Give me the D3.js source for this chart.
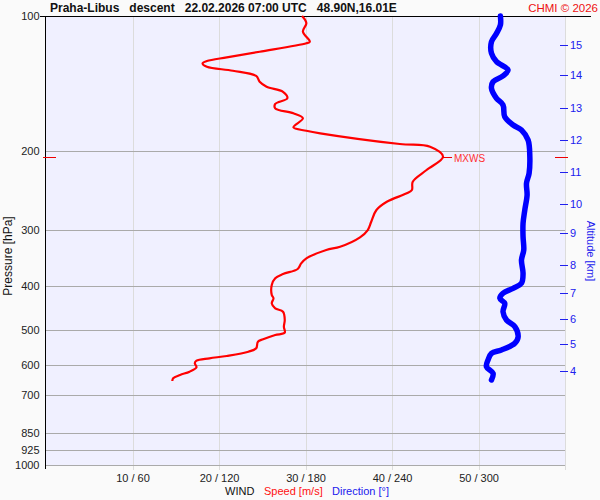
<!DOCTYPE html>
<html>
<head>
<meta charset="utf-8">
<script src="https://cdn.jsdelivr.net/npm/d3@7"></script>
<style>
body { margin: 0; background: #fafafa; }
svg { display: block; font-family: "Liberation Sans", Arial, sans-serif; }
</style>
</head>
<body>
<script>
//chart size
var outerWidth = 600;
var outerHeight = 500;

//pressure levels and axis ticks
var pressureTicks = [100, 200, 300, 400, 500, 600, 700, 850, 925, 1000];
var windTicks = [10, 20, 30, 40, 50];
var windTickLabels = ["10 / 60", "20 / 120", "30 / 180", "40 / 240", "50 / 300"];
var altitudeKm = [15, 14, 13, 12, 11, 10, 9, 8, 7, 6, 5, 4];
var altitudePressure = [116, 135.5, 160, 189, 223, 262, 304, 358, 414, 473, 538, 616];

//wind speed profile [hPa], [m/s]
var speedPressure = [100, 103.7, 108.4, 114.1, 115.0, 120.1, 123.6, 126.0, 127.5, 129.7, 132.4, 136.0, 140.1, 143.7, 147.5, 152.5, 157.0, 160.6, 164.7, 169.0, 177.0, 180.1, 182.5, 192.8, 195.5, 205.8, 220.3, 233.9, 244.1, 248.3, 259.2, 270.5, 287.2, 299.7, 311.1, 326.5, 332.0, 346.5, 355.5, 366.0, 375.5, 383.8, 397.2, 418.1, 425.3, 436.4, 447.7, 455.6, 475.4, 492.0, 507.4, 513.4, 524.8, 531.3, 549.6, 559.3, 571.7, 578.6, 585.7, 593.5, 605.8, 619.6, 630.2, 641.0, 650.0];
var speedValues = [29.6, 30.1, 29.7, 30.5, 30.1, 24.7, 20.9, 18.6, 18.1, 18.6, 21.6, 24.3, 24.7, 25.5, 27.4, 27.9, 26.5, 26.5, 28.6, 29.7, 28.6, 30.1, 31.7, 40.9, 44.4, 45.9, 44.0, 42.4, 42.3, 41.7, 39.4, 38.2, 37.6, 37.2, 36.3, 34.0, 32.4, 30.1, 29.5, 29.1, 27.4, 26.5, 26.1, 26.1, 26.3, 26.1, 26.5, 27.4, 27.6, 27.5, 27.6, 26.5, 25.1, 24.5, 24.3, 23.4, 20.9, 18.9, 17.4, 17.2, 17.4, 16.6, 15.5, 14.7, 14.6];

//wind direction profile [hPa], [deg]
var dirPressure = [100, 104.7, 109.3, 114.1, 121.1, 126.4, 131.9, 136.0, 140.1, 144.9, 152.5, 157.8, 167.6, 174.9, 179.4, 188.9, 205.8, 224.0, 235.8, 250.5, 270.5, 289.6, 310.1, 332.0, 349.5, 374.2, 393.8, 404.1, 414.5, 425.3, 436.4, 455.6, 475.4, 492.0, 518.0, 535.8, 554.5, 564.0, 583.6, 603.9, 624.8, 646.7];
var dirValues = [315.2, 315.2, 312.5, 309.0, 309.0, 312.5, 320.5, 317.0, 310.1, 309.0, 312.5, 317.0, 318.2, 324.0, 329.8, 334.4, 335.6, 335.1, 333.3, 333.7, 332.1, 330.9, 330.9, 331.4, 329.8, 330.9, 329.8, 324.0, 317.0, 314.8, 318.2, 317.0, 319.4, 325.2, 327.5, 325.2, 315.9, 309.0, 306.6, 305.5, 310.1, 309.0];

//max wind level
var mxwsPressure = 205.8;
var mxwsSpeed = 45.9;

var svg = d3.select("body").append("svg")
  .attr("width", outerWidth)
  .attr("height", outerHeight);

//scales
var plotLeft = 46, plotRight = 565, plotTop = 16, plotBottom = 465;
var yScale = d3.scaleLog().domain([100, 1000]).range([plotTop, plotBottom]);
var xScale = d3.scaleLinear().domain([0, 60]).range([plotLeft, plotRight]);
var dirScale = d3.scaleLinear().domain([0, 360]).range([plotLeft, plotRight]);

//plot background
svg.append("rect")
  .attr("x", plotLeft).attr("y", plotTop)
  .attr("width", plotRight - plotLeft).attr("height", plotBottom - plotTop + 1)
  .attr("fill", "#f0f0ff");

//vertical grid
svg.append("g").selectAll("line")
  .data(windTicks.concat([60]))
  .enter().append("line")
  .attr("x1", (d)=>Math.round(xScale(d)) + 0.5)
  .attr("x2", (d)=>Math.round(xScale(d)) + 0.5)
  .attr("y1", plotTop).attr("y2", plotBottom + 5)
  .attr("stroke", "#dcdcdc");

//pressure grid
svg.append("g").selectAll("line")
  .data(pressureTicks.slice(1))
  .enter().append("line")
  .attr("x1", plotLeft).attr("x2", plotRight)
  .attr("y1", (d)=>Math.round(yScale(d)) + 0.5)
  .attr("y2", (d)=>Math.round(yScale(d)) + 0.5)
  .attr("stroke", "#aaaaaa");

//left axis
var yAxis = d3.axisLeft(yScale)
  .tickValues(pressureTicks)
  .tickFormat(d3.format("d"))
  .tickSize(0)
  .tickPadding(6);
var gy = svg.append("g")
  .attr("transform", "translate(" + (plotLeft - 0.5) + ",0)")
  .call(yAxis);
gy.select(".domain").remove();
gy.selectAll("text").attr("font-size", 11).attr("fill", "#222").attr("font-family", "Liberation Sans, Arial, sans-serif");
svg.append("line")
  .attr("x1", plotLeft - 0.5).attr("x2", plotLeft - 0.5)
  .attr("y1", plotTop).attr("y2", plotBottom + 4)
  .attr("stroke", "#000");
svg.append("line")
  .attr("x1", 40).attr("x2", 591)
  .attr("y1", plotTop + 0.5).attr("y2", plotTop + 0.5)
  .attr("stroke", "#000");

//bottom axis labels
var xAxis = d3.axisBottom(xScale)
  .tickValues(windTicks)
  .tickFormat((d, i)=>windTickLabels[i])
  .tickSize(0)
  .tickPadding(5);
var gx = svg.append("g")
  .attr("transform", "translate(0," + (plotBottom + 4) + ")")
  .call(xAxis);
gx.select(".domain").remove();
gx.selectAll("text").attr("font-size", 11).attr("fill", "#222").attr("font-family", "Liberation Sans, Arial, sans-serif");

//altitude axis
var altData = altitudeKm.map((d, i)=>({km: d, p: altitudePressure[i]}));
var alt = svg.append("g");
alt.selectAll("line")
  .data(altData)
  .enter().append("line")
  .attr("x1", 560).attr("x2", 568)
  .attr("y1", (d)=>Math.round(yScale(d.p)) + 0.5)
  .attr("y2", (d)=>Math.round(yScale(d.p)) + 0.5)
  .attr("stroke", "#2020ee").attr("stroke-width", 1);
alt.selectAll("text")
  .data(altData)
  .enter().append("text")
  .attr("x", 570)
  .attr("y", (d)=>yScale(d.p) + 4)
  .attr("font-size", 11)
  .attr("fill", "#2020ee")
  .text((d)=>d.km);

//wind direction line
var dirData = dirPressure.map((d, i)=>({p: d, v: dirValues[i]}));
svg.append("path")
  .datum(dirData)
  .attr("fill", "none")
  .attr("stroke", "#0000ff")
  .attr("stroke-width", 5.5)
  .attr("stroke-linecap", "round")
  .attr("stroke-linejoin", "round")
  .attr("d", d3.line().curve(d3.curveCatmullRom)
    .x((d)=>dirScale(d.v))
    .y((d)=>yScale(d.p)));

//wind speed line
var speedData = speedPressure.map((d, i)=>({p: d, v: speedValues[i]}));
svg.append("path")
  .datum(speedData)
  .attr("fill", "none")
  .attr("stroke", "#ff0000")
  .attr("stroke-width", 2.2)
  .attr("stroke-linejoin", "round")
  .attr("d", d3.line().curve(d3.curveCatmullRom)
    .x((d)=>xScale(d.v))
    .y((d)=>yScale(d.p)));

//max wind marks
var my = Math.round(yScale(mxwsPressure)) + 0.5;
svg.append("line")
  .attr("x1", 43).attr("x2", 56).attr("y1", my).attr("y2", my)
  .attr("stroke", "#ee0000");
svg.append("line")
  .attr("x1", 555).attr("x2", 568).attr("y1", my).attr("y2", my)
  .attr("stroke", "#ee0000");
svg.append("line")
  .attr("x1", xScale(mxwsSpeed)).attr("x2", xScale(mxwsSpeed) + 9)
  .attr("y1", my).attr("y2", my)
  .attr("stroke", "#ee0000");
svg.append("text")
  .attr("x", xScale(mxwsSpeed) + 11)
  .attr("y", my + 4)
  .attr("font-size", 10)
  .attr("fill", "#ff3030")
  .text("MXWS");

//titles
svg.append("text")
  .attr("x", 50).attr("y", 12)
  .attr("font-size", 12)
  .attr("font-weight", "bold")
  .attr("fill", "#111")
  .attr("xml:space", "preserve")
  .style("white-space", "pre")
  .text("Praha-Libus   descent   22.02.2026 07:00 UTC   48.90N,16.01E");
svg.append("text")
  .attr("x", 598).attr("y", 12)
  .attr("text-anchor", "end")
  .attr("font-size", 11.5)
  .attr("fill", "#ee1111")
  .text("CHMI © 2026");

svg.append("text")
  .attr("transform", "translate(12,256) rotate(-90)")
  .attr("text-anchor", "middle")
  .attr("font-size", 12)
  .attr("fill", "#111")
  .text("Pressure [hPa]");
svg.append("text")
  .attr("transform", "translate(587,251) rotate(90)")
  .attr("text-anchor", "middle")
  .attr("font-size", 11)
  .attr("fill", "#2020ee")
  .text("Altitude [km]");

//legend
svg.append("text")
  .attr("x", 225).attr("y", 495)
  .attr("font-size", 11).attr("fill", "#111")
  .text("WIND");
svg.append("text")
  .attr("x", 264).attr("y", 495)
  .attr("font-size", 11).attr("fill", "#ff1010")
  .text("Speed [m/s]");
svg.append("text")
  .attr("x", 332).attr("y", 495)
  .attr("font-size", 11).attr("fill", "#2020ee")
  .text("Direction [°]");
</script>
</body>
</html>
